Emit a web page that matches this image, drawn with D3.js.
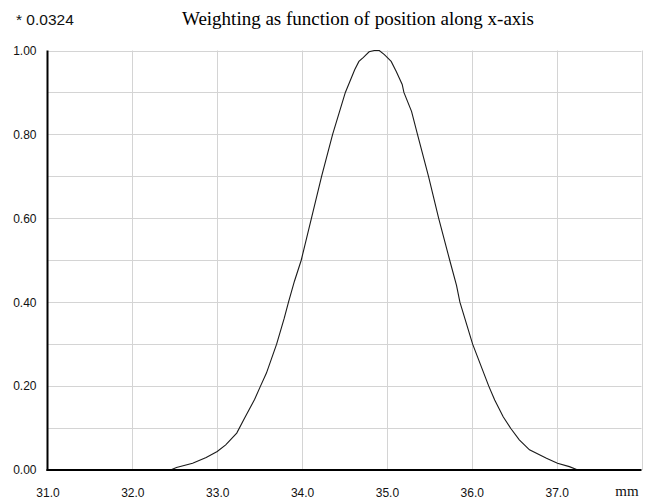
<!DOCTYPE html>
<html>
<head>
<meta charset="utf-8">
<script src="https://cdn.jsdelivr.net/npm/d3@7"></script>
<style>
  html, body { margin: 0; padding: 0; background: #fff; }
  svg { display: block; }
</style>
</head>
<body>
<svg id="chart" width="652" height="502"></svg>
<script>
// ---- data ----
const positions = [32.45, 32.52, 32.71, 32.87, 33.00, 33.10, 33.23, 33.32, 33.44, 33.51,
  33.58, 33.70, 33.79, 33.84, 33.91, 33.99, 34.11, 34.23, 34.36, 34.51,
  34.62, 34.67, 34.72, 34.79, 34.85, 34.91, 34.97, 35.05, 35.11, 35.18,
  35.20, 35.29, 35.36, 35.49, 35.61, 35.74, 35.82, 35.86, 36.01, 36.20,
  36.27, 36.37, 36.46, 36.56, 36.68, 36.88, 37.01, 37.15, 37.25];
const weights = [0.000, 0.006, 0.016, 0.030, 0.044, 0.060, 0.088, 0.123, 0.168, 0.200,
  0.231, 0.300, 0.362, 0.400, 0.450, 0.500, 0.600, 0.700, 0.800, 0.900,
  0.954, 0.974, 0.983, 0.997, 1.000, 1.000, 0.990, 0.974, 0.950, 0.919,
  0.900, 0.855, 0.800, 0.700, 0.600, 0.500, 0.440, 0.400, 0.300, 0.200,
  0.167, 0.127, 0.099, 0.072, 0.048, 0.028, 0.016, 0.008, 0.000];
const xTickLabels = [31, 32, 33, 34, 35, 36, 37];
const xGrid = [32, 33, 34, 35, 36, 37, 38];
const yTickLabels = [0, 0.2, 0.4, 0.6, 0.8, 1.0];
const yGrid = [0.1, 0.2, 0.3, 0.4, 0.5, 0.6, 0.7, 0.8, 0.9, 1.0];
const title = "Weighting as function of position along x-axis";
const scaleNote = "* 0.0324";
const unitLabel = "mm";

// ---- layout ----
const svg = d3.select("#chart");
const x = d3.scaleLinear().domain([31, 38]).range([47.5, 641.5]);
const y = d3.scaleLinear().domain([0, 1]).range([470, 50.5]);

// grid
svg.append("g").selectAll("line").data(yGrid).join("line")
  .attr("x1", x(31)).attr("x2", x(38))
  .attr("y1", d => Math.round(y(d)) + 0.5).attr("y2", d => Math.round(y(d)) + 0.5)
  .attr("stroke", "#d4d4d4").attr("stroke-width", 1);
svg.append("g").selectAll("line").data(xGrid).join("line")
  .attr("x1", d => Math.round(x(d)) + 0.5).attr("x2", d => Math.round(x(d)) + 0.5)
  .attr("y1", y(1)).attr("y2", y(0))
  .attr("stroke", "#d4d4d4").attr("stroke-width", 1);

// curve
const line = d3.line().x((d, i) => x(positions[i])).y((d, i) => y(weights[i]));
svg.append("path").datum(weights)
  .attr("d", line)
  .attr("fill", "none")
  .attr("stroke", "#1a1a1a")
  .attr("stroke-width", 1.1);

// axes
const font = "'Liberation Sans', Arial, sans-serif";
const yAxis = d3.axisLeft(y).tickValues(yTickLabels).tickFormat(d3.format(".2f"))
  .tickSize(0).tickPadding(11);
const gy = svg.append("g").attr("transform", `translate(${x(31)},0)`).call(yAxis);
gy.select(".domain").remove();
gy.selectAll("text").attr("font-family", font).attr("font-size", 12).attr("fill", "#111");

const xAxis = d3.axisBottom(x).tickValues(xTickLabels).tickFormat(d3.format(".1f"))
  .tickSize(0).tickPadding(18.5);
const gx = svg.append("g").attr("transform", `translate(0,${y(0)})`).call(xAxis);
gx.select(".domain").remove();
gx.selectAll("text").attr("font-family", font).attr("font-size", 12).attr("fill", "#111");

// axis lines (thick black)
svg.append("line").attr("x1", x(31)).attr("x2", x(31))
  .attr("y1", y(1)).attr("y2", y(0) + 1)
  .attr("stroke", "#000").attr("stroke-width", 2);
svg.append("line").attr("x1", x(31) - 1).attr("x2", x(38))
  .attr("y1", y(0)).attr("y2", y(0))
  .attr("stroke", "#000").attr("stroke-width", 2);

// texts
svg.append("text").attr("x", 358).attr("y", 25)
  .attr("text-anchor", "middle")
  .attr("font-family", "'Liberation Serif', 'Times New Roman', serif")
  .attr("font-size", 19).attr("fill", "#000")
  .text(title);
svg.append("text").attr("x", 16).attr("y", 25)
  .attr("font-family", font).attr("font-size", 15.5).attr("fill", "#111")
  .text(scaleNote);
svg.append("text").attr("x", 627).attr("y", 496)
  .attr("text-anchor", "middle")
  .attr("font-family", "'Liberation Serif', 'Times New Roman', serif")
  .attr("font-size", 15).attr("fill", "#111")
  .text(unitLabel);
</script>
</body>
</html>
